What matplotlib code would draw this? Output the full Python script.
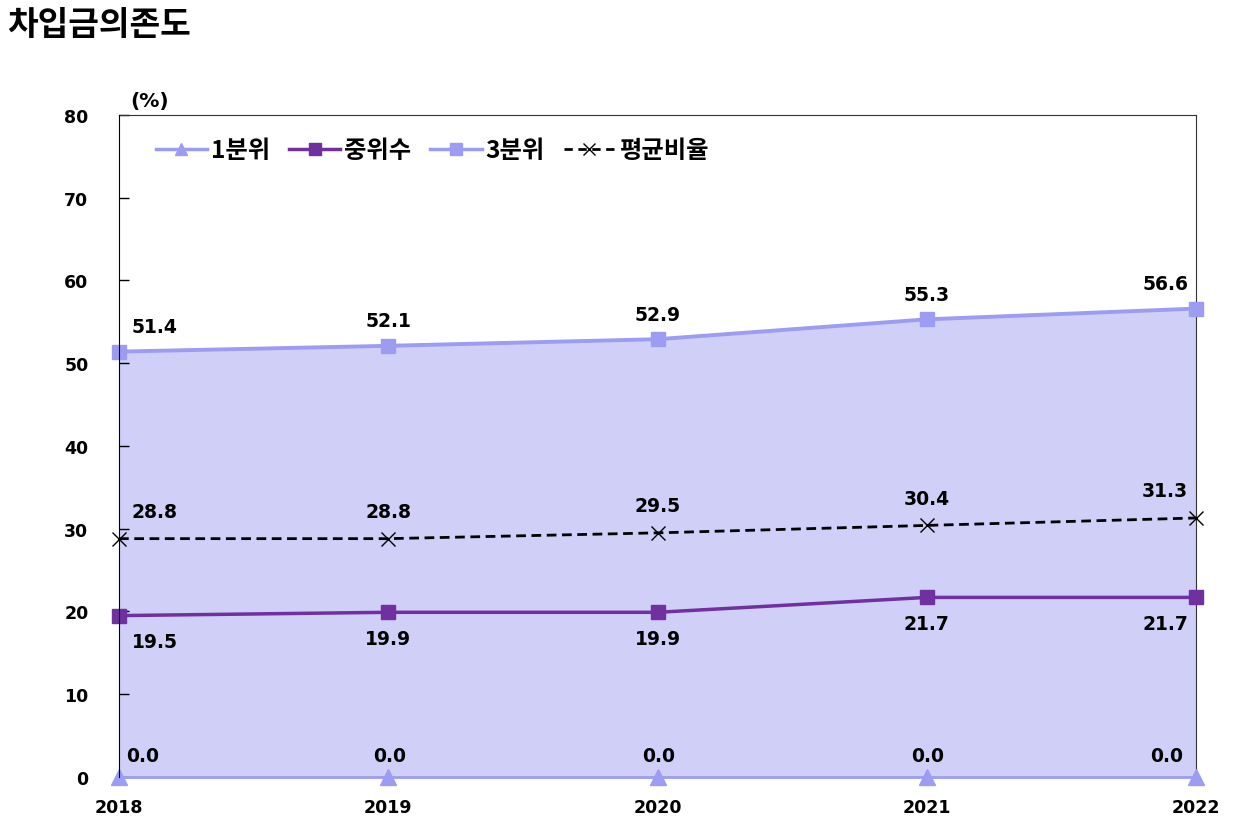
import matplotlib
matplotlib.use('Agg')
import matplotlib.pyplot as plt
from matplotlib.lines import Line2D

years = [2018, 2019, 2020, 2021, 2022]
q1 = [0.0, 0.0, 0.0, 0.0, 0.0]
median = [19.5, 19.9, 19.9, 21.7, 21.7]
q3 = [51.4, 52.1, 52.9, 55.3, 56.6]
avg = [28.8, 28.8, 29.5, 30.4, 31.3]
series_names = ['1분위', '중위수', '3분위', '평균비율']

KR = ['Noto Sans CJK KR', 'DejaVu Sans']
NUM = 'DejaVu Sans'

LIGHT = '#9c9cf2'
PURPLE = '#7030a0'
FILL = '#cfcff8'


def label_offsets(n):
    """x offsets in pixels: first point shifted right, last shifted left"""
    return [36] + [0] * (n - 2) + [-31]


def plot():
    fig = plt.figure(figsize=(12.46, 8.37), dpi=100)
    ax = fig.add_axes([0.0955, 0.0705, 0.8645, 0.791])

    ax.fill_between(years, q1, q3, color=FILL, lw=0, zorder=1)

    ax.plot(years, q1, color=LIGHT, lw=2, marker='^', ms=11,
            clip_on=False, zorder=4)
    ax.plot(years, median, color=PURPLE, lw=2.5, marker='s', ms=10,
            clip_on=False, zorder=4)
    ax.plot(years, q3, color=LIGHT, lw=2.8, marker='s', ms=10,
            clip_on=False, zorder=4)
    ax.plot(years, avg, color='black', lw=2, ls=(0, (3.5, 2)), marker='x',
            ms=10, mew=1, clip_on=False, zorder=4)

    dx = label_offsets(len(years))
    fs = 13.5
    for i, yr in enumerate(years):
        ax.annotate(f'{q3[i]:.1f}', (yr, q3[i]), xytext=(dx[i], 25),
                    textcoords='offset pixels', ha='center', va='center',
                    fontsize=fs, fontweight='bold', family=NUM, zorder=5)
        ax.annotate(f'{avg[i]:.1f}', (yr, avg[i]), xytext=(dx[i], 27),
                    textcoords='offset pixels', ha='center', va='center',
                    fontsize=fs, fontweight='bold', family=NUM, zorder=5)
        ax.annotate(f'{median[i]:.1f}', (yr, median[i]), xytext=(dx[i], -26),
                    textcoords='offset pixels', ha='center', va='center',
                    fontsize=fs, fontweight='bold', family=NUM, zorder=5)
        q1dx = dx[i] - 12 if i == 0 else dx[i] + 1
        ax.annotate(f'{q1[i]:.1f}', (yr, q1[i]), xytext=(q1dx, 21),
                    textcoords='offset pixels', ha='center', va='center',
                    fontsize=fs, fontweight='bold', family=NUM, zorder=5)

    ax.set_xlim(years[0], years[-1])
    ax.set_ylim(0, 80)
    ax.set_xticks(years)
    ax.set_xticklabels([str(y) for y in years])
    ax.set_yticks(range(0, 81, 10))
    ax.tick_params(axis='y', direction='in', length=7, width=1, pad=22)
    ax.tick_params(axis='x', length=0, pad=15)
    for lab in ax.get_xticklabels() + ax.get_yticklabels():
        lab.set_fontweight('bold')
        lab.set_fontsize(12.5)
        lab.set_family(NUM)

    ax.spines['bottom'].set_visible(False)
    ax.spines['left'].set_color('black')
    for s in ['top', 'right']:
        ax.spines[s].set_color('#333333')
    ax.spines['left'].set_zorder(6)

    ax.text(0.010, 1.008, '(%)', transform=ax.transAxes, ha='left',
            va='bottom', fontsize=14.5, fontweight='bold', family=NUM)

    handles = [
        Line2D([], [], color=LIGHT, lw=2.5, marker='^', ms=9),
        Line2D([], [], color=PURPLE, lw=2.5, marker='s', ms=8),
        Line2D([], [], color=LIGHT, lw=2.5, marker='s', ms=8),
        Line2D([], [], color='black', lw=2, ls=(0, (3, 2)), marker='x',
               ms=9, mew=1),
    ]
    ax.legend(handles, series_names, loc='upper left', ncol=4,
              bbox_to_anchor=(0.014, 0.998), frameon=False,
              prop={'family': KR, 'weight': 'bold', 'size': 17.5},
              handlelength=2.1, handletextpad=0.15, columnspacing=0.8)

    fig.text(0.006, 0.97, '차입금의존도', ha='left', va='center',
             fontsize=24, fontweight='bold', family=KR)

    fig.savefig('out.png', dpi=100)


if __name__ == '__main__':
    plot()
